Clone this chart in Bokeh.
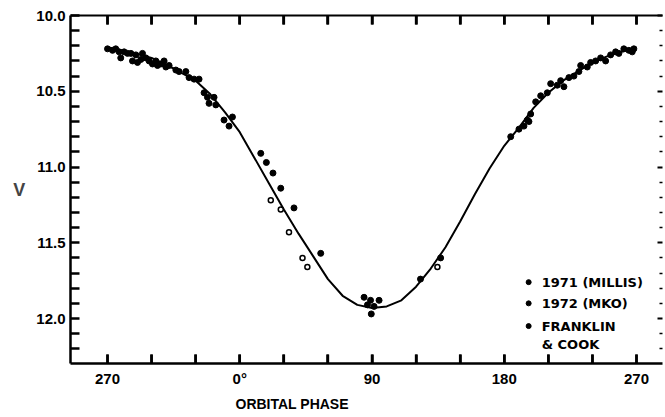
import math
from bokeh.plotting import figure
from bokeh.models import (Range1d, LinearAxis, FixedTicker, Title,
                          CustomJSTickFormatter)
from bokeh.core.properties import value
from bokeh.embed import file_html
from bokeh.resources import INLINE

# ---------------- data ----------------
curve_phase = [-90, -75, -60, -45, -30, -20, -10, 0, 10, 20, 30, 40, 50, 60, 70,
               80, 90, 100, 110, 120, 130, 140, 150, 160, 170, 180, 190, 200,
               210, 220, 230, 240, 250, 260, 270]
curve_v = [10.21, 10.24, 10.28, 10.35, 10.43, 10.52, 10.64, 10.77, 10.94, 11.11,
           11.28, 11.44, 11.59, 11.74, 11.85, 11.91, 11.93, 11.92, 11.88, 11.79,
           11.67, 11.53, 11.36, 11.18, 11.01, 10.86, 10.74, 10.61, 10.51, 10.43,
           10.37, 10.31, 10.27, 10.24, 10.21]

millis_phase = [-90.0, -86.6, -84.4, -82.1, -81.0, -78.7, -76.4, -74.1, -73.0, -70.7,
                -69.6, -67.3, -66.2, -63.9, -61.7, -59.4, -57.1, -56.0, -53.7, -51.5,
                -50.3, -48.1, -43.5, -41.3, -36.7, -34.5, -31.1, -27.7, -24.3, -22.0,
                -20.9, -17.5, -16.3, -10.7, -5.0, -7.3,
                184.4, 190.0, 193.4, 195.7, 196.8, 198.0, 201.4, 204.8, 209.3, 211.6,
                216.1, 218.4, 220.6, 224.0, 227.4, 230.8, 232.0, 236.5, 238.8, 242.2,
                245.6, 249.0, 252.4, 255.8, 258.0, 261.4, 264.8, 267.1, 268.2]
millis_v = [10.22, 10.23, 10.22, 10.24, 10.28, 10.24, 10.25, 10.25, 10.30, 10.26,
            10.31, 10.29, 10.25, 10.28, 10.30, 10.32, 10.30, 10.33, 10.32, 10.30,
            10.34, 10.33, 10.36, 10.37, 10.37, 10.41, 10.42, 10.42, 10.51, 10.54,
            10.58, 10.54, 10.59, 10.69, 10.67, 10.73,
            10.80, 10.75, 10.73, 10.69, 10.70, 10.65, 10.57, 10.53, 10.51, 10.45,
            10.46, 10.43, 10.47, 10.41, 10.40, 10.37, 10.33, 10.34, 10.31, 10.30,
            10.28, 10.30, 10.26, 10.24, 10.25, 10.22, 10.23, 10.24, 10.22]

mko_phase = [14.3, 18.1, 22.6, 27.9, 36.9, 55.1, 84.6, 89.0, 94.8, 86.9, 89.5, 91.4,
             123.0, 136.7]
mko_v = [10.91, 10.97, 11.04, 11.14, 11.27, 11.57, 11.86, 11.88, 11.88, 11.91, 11.97,
         11.92, 11.74, 11.60]

fc_phase = [21.1, 27.9, 33.5, 42.7, 46.0, 134.5]
fc_v = [11.22, 11.28, 11.43, 11.60, 11.66, 11.66]

phase_major = [-90, 0, 90, 180, 270]
phase_minor = [-60, -30, 30, 60, 120, 150, 210, 240]
phase_labels = ["270", "0°", "90", "180", "270"]

v_major = [10.0, 10.5, 11.0, 11.5, 12.0]
v_minor = [10.1, 10.2, 10.3, 10.4, 10.6, 10.7, 10.8, 10.9, 11.1, 11.2, 11.3, 11.4,
           11.6, 11.7, 11.8, 11.9, 12.1, 12.2]
v_labels = ["10.0", "10.5", "11.0", "11.5", "12.0"]

legend_labels = ["1971 (MILLIS)", "1972 (MKO)", "FRANKLIN", "& COOK"]

# ---------------- figure ----------------
FONT = "Liberation Sans"
X_START, X_END = -115.2, 287.7
V_BOTTOM, V_TOP = 12.297, 10.0
p = figure(width=665, height=417, x_range=Range1d(X_START, X_END),
           y_range=Range1d(V_BOTTOM, V_TOP), output_backend="svg", title=None,
           toolbar_location=None, min_border_left=70, min_border_right=3,
           min_border_top=15, min_border_bottom=54)
p.grid.visible = False
p.outline_line_color = None
p.background_fill_color = None
p.border_fill_color = None

empty = CustomJSTickFormatter(code="return ''")

# bottom axis
xa = p.xaxis[0]
xa.ticker = FixedTicker(ticks=phase_major, minor_ticks=phase_minor)
xa.major_label_overrides = {t: l for t, l in zip(phase_major, phase_labels)}
xa.axis_line_width = 2.5
xa.major_tick_in = 9
xa.major_tick_out = 0
xa.minor_tick_in = 9
xa.minor_tick_out = 0
xa.major_tick_line_width = 2.5
xa.minor_tick_line_width = 2.5
xa.major_label_standoff = 6
xa.major_label_text_font = FONT
xa.major_label_text_font_style = "bold"
xa.major_label_text_font_size = "15px"
xa.major_label_text_color = "black"

# left axis
ya = p.yaxis[0]
ya.ticker = FixedTicker(ticks=v_major, minor_ticks=v_minor)
ya.major_label_overrides = {t: l for t, l in zip(v_major, v_labels)}
ya.axis_line_width = 2.5
ya.major_tick_in = 9
ya.major_tick_out = 0
ya.minor_tick_in = 9
ya.minor_tick_out = 0
ya.major_tick_line_width = 2.5
ya.minor_tick_line_width = 2.5
ya.major_label_standoff = 5
ya.major_label_text_font = FONT
ya.major_label_text_font_style = "bold"
ya.major_label_text_font_size = "15px"
ya.major_label_text_color = "black"
ya.axis_label = "V"
ya.axis_label_orientation = "horizontal"
ya.axis_label_text_font = FONT
ya.axis_label_text_font_style = "bold"
ya.axis_label_text_font_size = "18px"
ya.axis_label_standoff = 8

# top axis (line + inward ticks, no labels)
ta = LinearAxis(ticker=FixedTicker(ticks=phase_major, minor_ticks=phase_minor),
                formatter=empty)
ta.axis_line_width = 2.2
ta.major_tick_in = 9
ta.major_tick_out = 0
ta.minor_tick_in = 9
ta.minor_tick_out = 0
ta.major_tick_line_width = 2.5
ta.minor_tick_line_width = 2.5
ta.major_label_standoff = 0
ta.axis_label_standoff = 0
ta.major_label_text_font_size = "1px"
p.add_layout(ta, "above")

# right axis (faint in the scan: ticks only)
ra = LinearAxis(ticker=FixedTicker(ticks=v_major, minor_ticks=v_minor),
                formatter=empty)
ra.axis_line_color = None
ra.major_tick_in = 5
ra.major_tick_out = 0
ra.minor_tick_in = 3
ra.minor_tick_out = 0
ra.major_tick_line_width = 2
ra.minor_tick_line_width = 1.5
ra.major_label_standoff = 0
ra.axis_label_standoff = 0
ra.major_label_text_font_size = "1px"
p.add_layout(ra, "right")

# inward phase ticks on the top and bottom frame edges (half of each dash
# is clipped away by the frame, leaving a 9px inward tick)
phase_ticks = phase_major + phase_minor
for v_edge in (V_BOTTOM, V_TOP):
    p.scatter(phase_ticks, [v_edge] * len(phase_ticks), marker="dash", size=18,
              angle=math.pi / 2, line_color="black", line_width=2.5)

# x axis title, set left of centre as in the original
p.add_layout(Title(text="ORBITAL PHASE", align="left", offset=165,
                   text_font=FONT, text_font_style="bold",
                   text_font_size="14px", text_color="black", standoff=8),
             "below")

# ---------------- marks ----------------
p.line(curve_phase, curve_v, line_color="black", line_width=2)
p.scatter(millis_phase, millis_v, size=6, marker="circle",
          fill_color="black", line_color="black")
p.scatter(mko_phase, mko_v, size=6, marker="circle",
          fill_color="black", line_color="black")
p.scatter(fc_phase, fc_v, size=5, marker="circle",
          fill_color="white", line_color="black", line_width=1.5)

# legend (layout constants)
leg_x_dot = 196.6
leg_x_txt = 205.5
leg_rows = [11.76, 11.90, 12.05, 12.17]
p.scatter([leg_x_dot] * 3, leg_rows[:3], size=5, marker="circle",
          fill_color="black", line_color="black")
p.text(x=[leg_x_txt] * 4, y=leg_rows, text=legend_labels,
       text_font=value("DejaVu Sans"), text_font_style="bold",
       text_font_size="13px", text_baseline="middle", text_align="left",
       text_color="black")

open("out.html", "w").write(file_html(p, INLINE))
